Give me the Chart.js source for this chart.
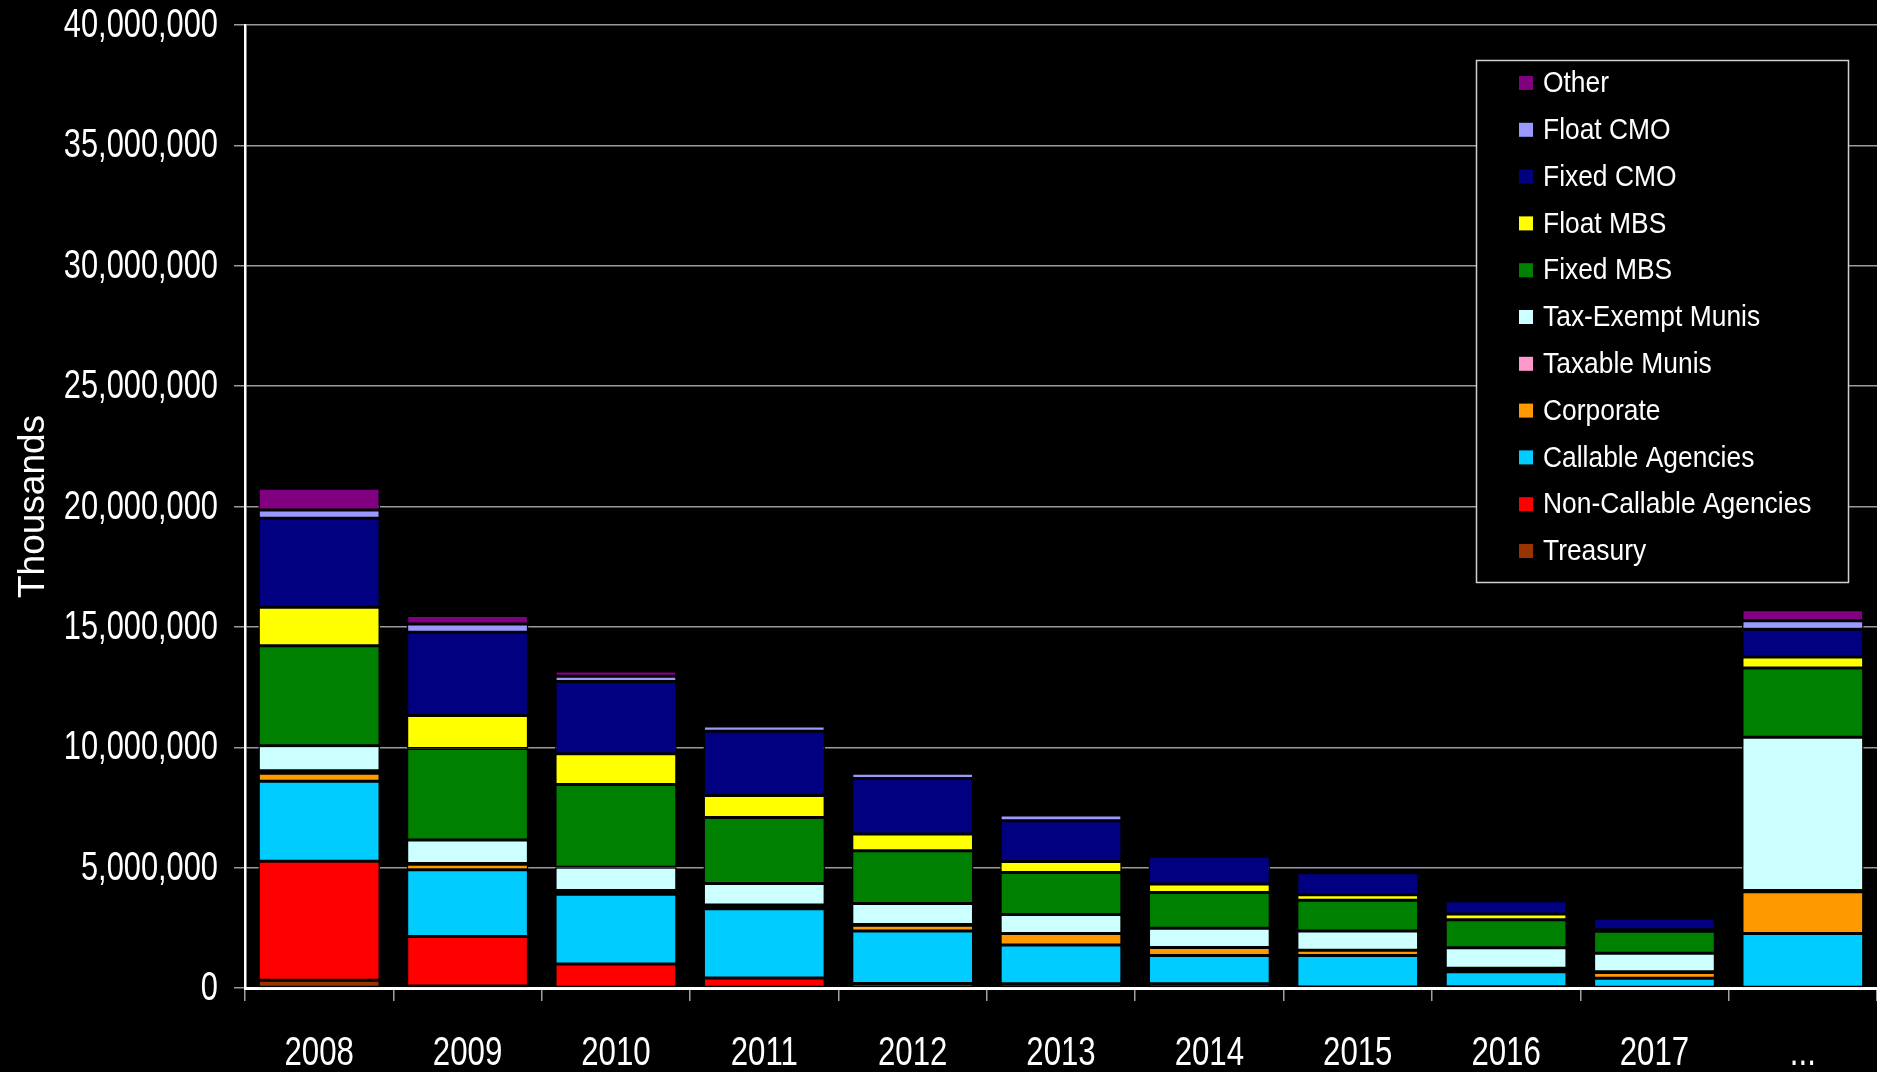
<!DOCTYPE html>
<html>
<head>
<meta charset="utf-8">
<script src="https://cdn.jsdelivr.net/npm/chart.js@4.4.0/dist/chart.umd.min.js"></script>
<style>
  html, body { margin: 0; padding: 0; background: #000; overflow: hidden; }
  #wrap { width: 1877px; height: 1072px; }
</style>
</head>
<body>
<div id="wrap"><canvas id="myChart" width="1877" height="1072"></canvas></div>
<script>
// values in thousands
const years = ['2008', '2009', '2010', '2011', '2012', '2013', '2014', '2015', '2016', '2017', '...']

const treasury    = [320000, 80000, 0, 0, 0, 0, 0, 0, 0, 0, 0]
const nonCallable = [4940000, 2060000, 1000000, 420000, 190000, 180000, 180000, 40000, 50000, 0, 0]
const callable    = [3330000, 2770000, 2890000, 2870000, 2180000, 1610000, 1170000, 1310000, 620000, 400000, 2260000]
const corporate   = [330000, 230000, 100000, 100000, 240000, 470000, 330000, 220000, 80000, 240000, 1740000]
const taxable     = [100000, 30000, 60000, 60000, 30000, 0, 0, 0, 70000, 30000, 50000]
const taxExempt   = [1040000, 980000, 970000, 890000, 870000, 790000, 800000, 800000, 850000, 770000, 6370000]
const fixedMbs    = [4160000, 3800000, 3430000, 2740000, 2190000, 1750000, 1490000, 1270000, 1160000, 920000, 2870000]
const floatMbs    = [1600000, 1370000, 1280000, 920000, 700000, 450000, 350000, 230000, 240000, 60000, 460000]
const fixedCmo    = [3690000, 3460000, 3000000, 2660000, 2300000, 1700000, 1150000, 920000, 550000, 480000, 1150000]
const floatCmo    = [340000, 340000, 220000, 220000, 220000, 240000, 0, 0, 50000, 0, 350000]
const other       = [910000, 350000, 220000, 0, 0, 0, 0, 0, 0, 0, 460000]

const yTicks = [0, 5000000, 10000000, 15000000, 20000000, 25000000, 30000000, 35000000, 40000000]

const sans = '"Liberation Sans", Arial, sans-serif'

function makeSet(label, data, color) {
    return {
        label: label,
        data: data,
        backgroundColor: color,
        borderColor: '#000',
        borderWidth: 1.5,
        borderSkipped: false
    }
}

// narrow-looking text: normal font squeezed sideways
function squeezed(c, text, x, y, sx) {
    c.save()
    c.translate(x, y)
    c.scale(sx, 1)
    c.fillText(text, 0, 0)
    c.restore()
}

const narrowTicks = {
    id: 'narrowTicks',
    afterDraw(chart) {
        const c = chart.ctx
        const xs = chart.scales.x
        const ys = chart.scales.y
        c.save()
        c.fillStyle = '#fff'
        c.font = '40px ' + sans
        c.textBaseline = 'middle'
        c.textAlign = 'right'
        ys.ticks.forEach(t => {
            squeezed(c, t.value.toLocaleString('en-US'), 218, ys.getPixelForValue(t.value) + 1, 0.77)
        })
        c.textAlign = 'center'
        xs.ticks.forEach((t, i) => {
            squeezed(c, xs.getLabelForValue(t.value), xs.getPixelForTick(i), 1054, 0.78)
        })
        c.restore()
    }
}

const boxLegend = {
    id: 'boxLegend',
    afterDraw(chart) {
        const c = chart.ctx
        c.save()
        c.fillStyle = '#000'
        c.fillRect(1476, 60, 372, 522)
        c.strokeStyle = '#d0d0d0'
        c.lineWidth = 1.5
        c.strokeRect(1476.5, 60.5, 372, 522)
        const sets = chart.data.datasets.slice().reverse()
        c.font = '30px ' + sans
        c.textBaseline = 'middle'
        c.textAlign = 'left'
        sets.forEach((ds, i) => {
            const y = 83 + i * 46.8
            c.fillStyle = ds.backgroundColor
            c.fillRect(1519, y - 7, 14, 14)
            c.fillStyle = '#fff'
            squeezed(c, ds.label, 1543, y + 1, 0.88)
        })
        c.restore()
    }
}

const ctx = document.getElementById('myChart')
const chart = new Chart(ctx, {
    type: 'bar',
    data: {
        labels: years,
        datasets: [
            makeSet('Treasury', treasury, '#993300'),
            makeSet('Non-Callable Agencies', nonCallable, '#FF0000'),
            makeSet('Callable Agencies', callable, '#00CCFF'),
            makeSet('Corporate', corporate, '#FF9900'),
            makeSet('Taxable Munis', taxable, '#FF99CC'),
            makeSet('Tax-Exempt Munis', taxExempt, '#CCFFFF'),
            makeSet('Fixed MBS', fixedMbs, '#008000'),
            makeSet('Float MBS', floatMbs, '#FFFF00'),
            makeSet('Fixed CMO', fixedCmo, '#000080'),
            makeSet('Float CMO', floatCmo, '#9999FF'),
            makeSet('Other', other, '#800080')
        ]
    },
    options: {
        responsive: false,
        animation: false,
        layout: { padding: { top: 25, right: 0, bottom: 0, left: 0 } },
        datasets: { bar: { categoryPercentage: 1, barPercentage: 0.82 } },
        plugins: {
            legend: { display: false },
            tooltip: { enabled: false }
        },
        scales: {
            x: {
                stacked: true,
                offset: true,
                grid: {
                    offset: true,
                    drawOnChartArea: false,
                    color: '#a0a0a0',
                    lineWidth: 1.5,
                    tickLength: 13
                },
                border: { display: true, color: '#fff', width: 3 },
                ticks: { display: false },
                afterFit: (scale) => { scale.height = 84 }
            },
            y: {
                stacked: true,
                min: 0,
                max: 40000000,
                afterBuildTicks: (scale) => { scale.ticks = yTicks.map(v => ({ value: v })) },
                grid: {
                    color: '#9a9a9a',
                    lineWidth: 1.5,
                    tickLength: 11
                },
                border: { display: true, color: '#fff', width: 2.5 },
                ticks: { display: false },
                title: {
                    display: true,
                    text: 'Thousands',
                    color: '#fff',
                    padding: { top: 12, bottom: 0 },
                    font: { family: sans, size: 37 }
                },
                afterFit: (scale) => { scale.width = 245 }
            }
        }
    },
    plugins: [narrowTicks, boxLegend]
})
</script>
</body>
</html>
